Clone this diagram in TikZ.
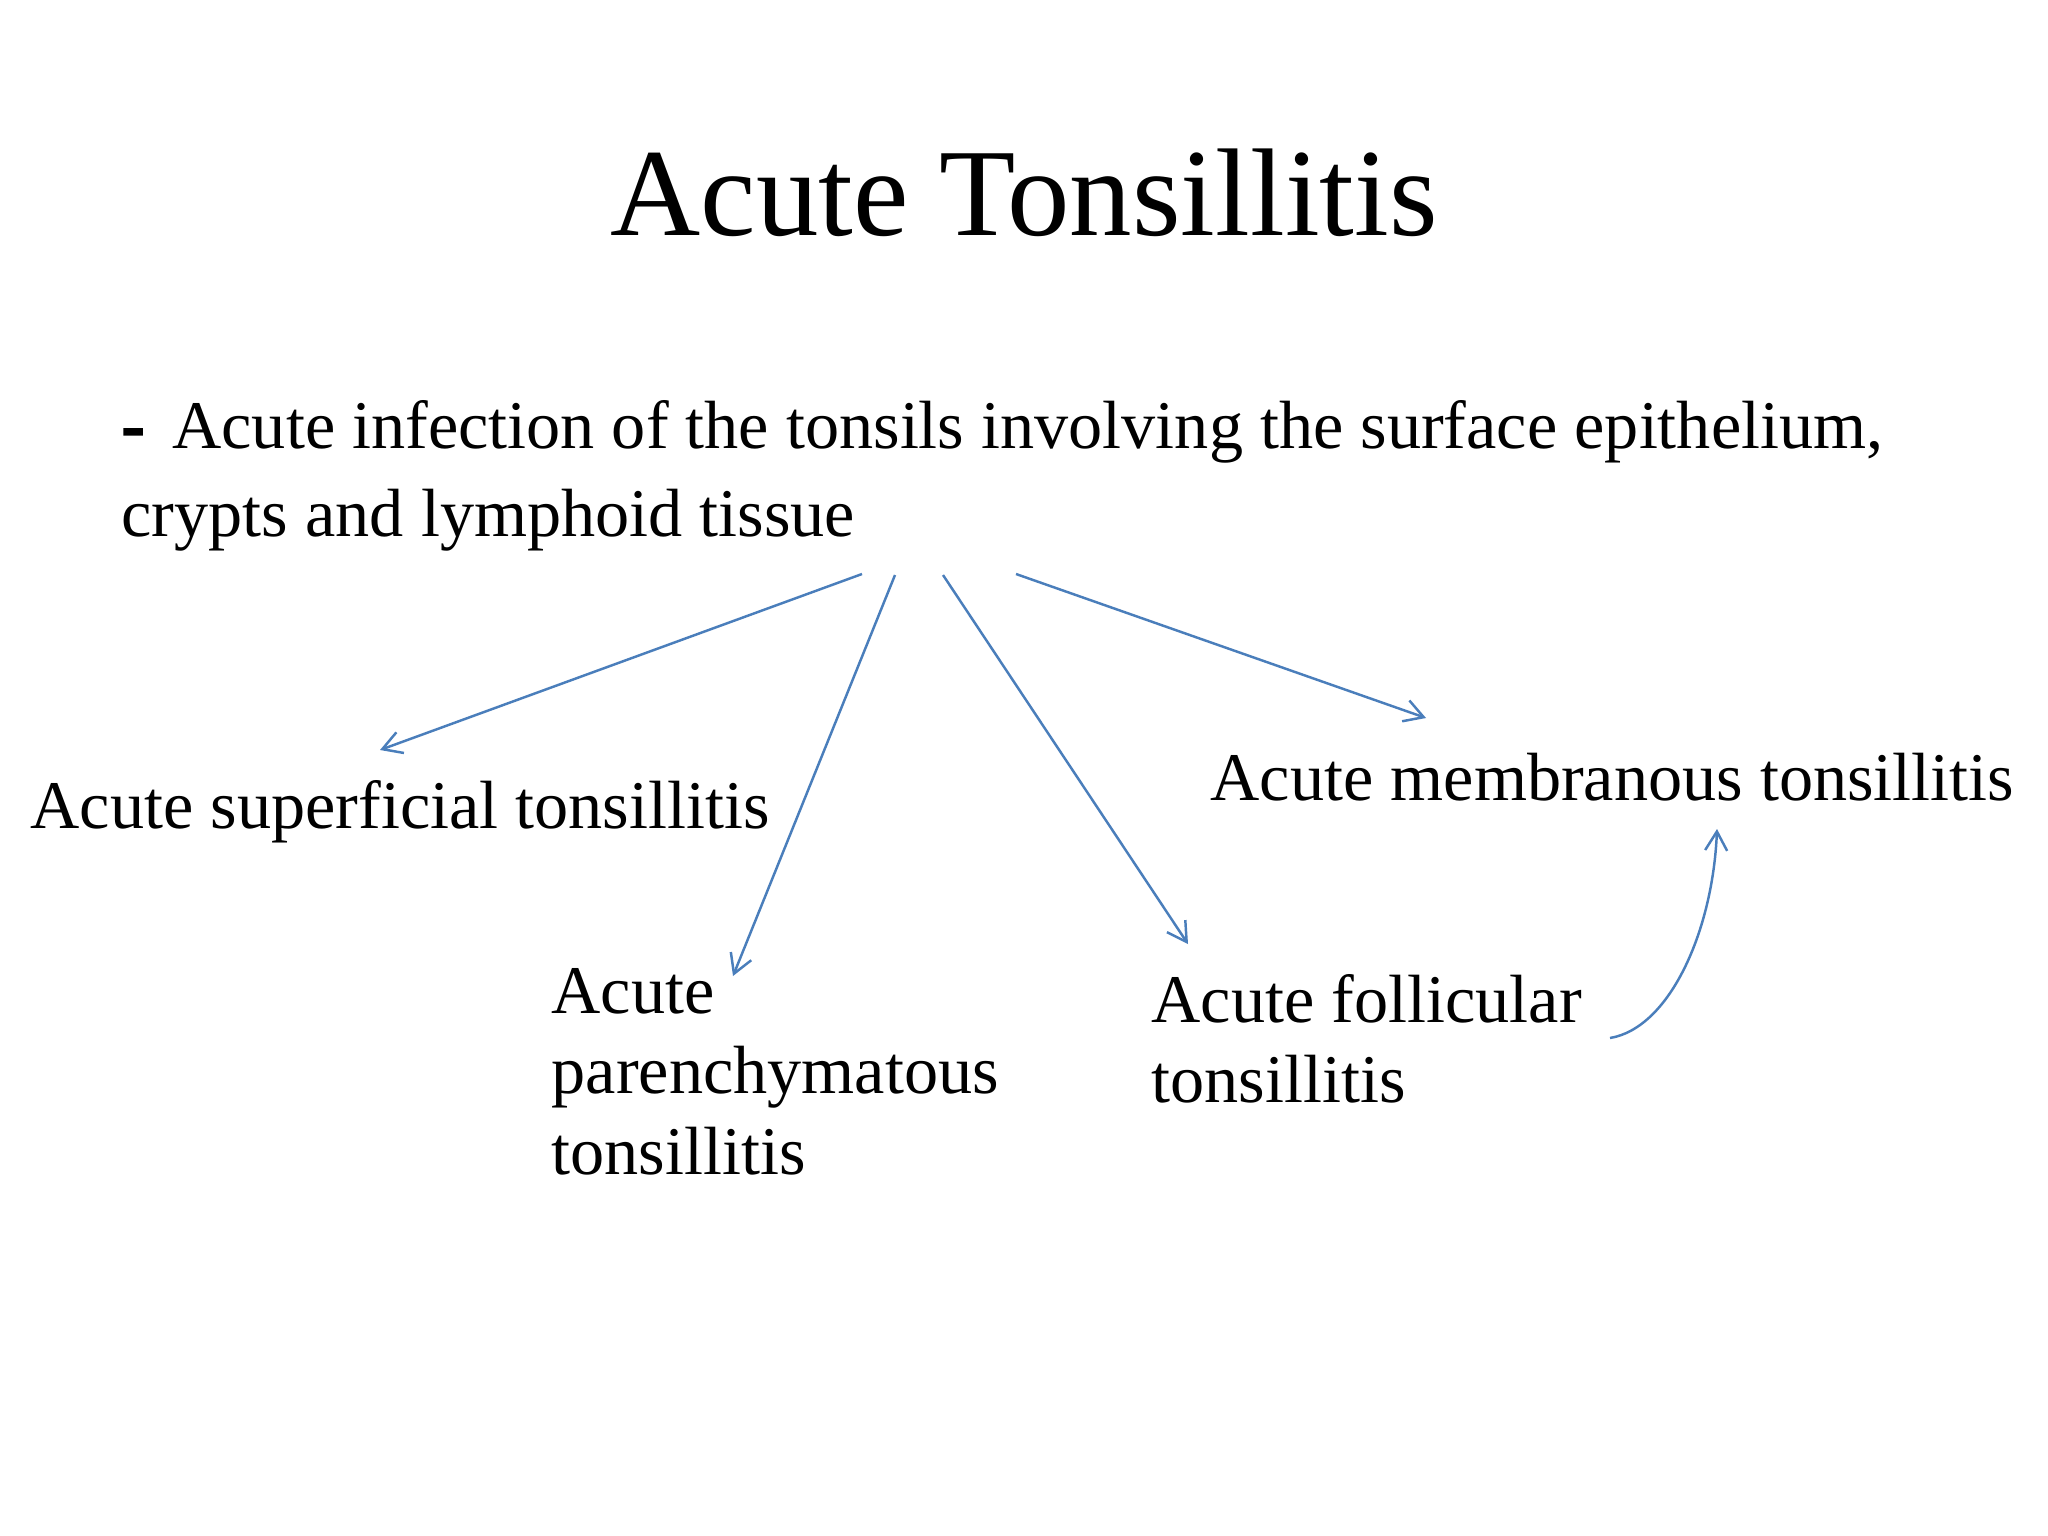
\documentclass[tikz,border=0pt]{standalone}
\usepackage{fontspec}
\setmainfont{Liberation Serif}
\newfontfamily\dashfont[FakeBold=2.5]{Liberation Serif Bold}
\usetikzlibrary{arrows.meta}
\definecolor{arrowblue}{RGB}{74,126,187}
\begin{document}
\begin{tikzpicture}[x=0.01cm,y=-0.01cm,
  lbl/.style={anchor=base west,inner sep=0pt,font=\fontsize{19.4}{23}\selectfont},
  conn/.style={draw=arrowblue,line width=0.7pt,-{Straight Barb[length=0.19cm,width=0.22cm]}}]
\useasboundingbox[fill=white] (0,0) rectangle (2048,1536);
\node[anchor=base,inner sep=0pt,font=\fontsize{35.5}{42}\selectfont] (title) at (1024,235) {Acute Tonsillitis};
\node[anchor=base west,inner sep=0pt,font=\fontsize{19.4}{25.3}\selectfont] (body) at (121,448)
  {\begin{tabular}[t]{@{}l@{}}{\dashfont -}\hspace{0.28cm}Acute infection of the tonsils involving the surface epithelium,\\crypts and lymphoid tissue\end{tabular}};
\node[lbl] (sup) at (30,828) {Acute superficial tonsillitis};
\node[lbl] (mem) at (1210,800) {Acute membranous tonsillitis};
\node[lbl] (par) at (551,1013) {\begin{tabular}[t]{@{}l@{}}Acute\\parenchymatous\\tonsillitis\end{tabular}};
\node[lbl] (fol) at (1151,1022) {\begin{tabular}[t]{@{}l@{}}Acute follicular\\tonsillitis\end{tabular}};
\coordinate (s1) at (862,574);
\coordinate (s2) at (895,575);
\coordinate (s3) at (943,575);
\coordinate (s4) at (1016,574);
\coordinate (t1) at (380,750);
\coordinate (t2) at (733,976);
\coordinate (t3) at (1188,944);
\coordinate (t4) at (1426,718);
\coordinate (c0) at (1610,1038);
\coordinate (c1) at (1717,829);
\draw[conn] (s1) -- (t1);
\draw[conn] (s2) -- (t2);
\draw[conn] (s3) -- (t3);
\draw[conn] (s4) -- (t4);
\draw[conn] (c0) .. controls (1670,1028) and (1713,930) .. (c1);
\end{tikzpicture}
\end{document}
